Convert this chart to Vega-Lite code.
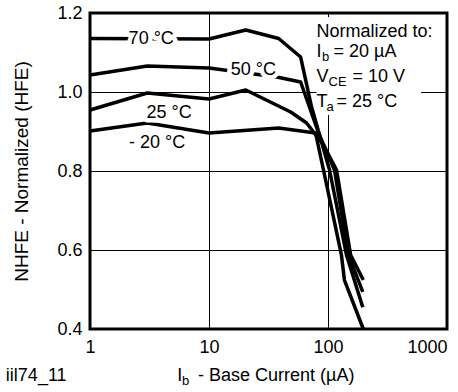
{
  "$schema": "https://vega.github.io/schema/vega-lite/v6.json",
  "width": 357,
  "height": 316,
  "autosize": {"type": "none"},
  "padding": {"left": 90, "top": 13, "right": 11, "bottom": 63},
  "background": "white",
  "config": {
    "font": "Liberation Sans",
    "view": {"stroke": "black", "strokeWidth": 3},
    "axis": {"domain": false, "ticks": true, "tickSize": 0, "labelColor": "black", "labelFont": "Liberation Sans", "labelFontSize": 18, "titleFont": "Liberation Sans", "titleFontWeight": "normal", "titleColor": "black", "gridColor": "black", "gridWidth": 1}
  },
  "datasets": {
    "curves": [
      {"series": "70 °C", "x": 1, "y": 1.1354},
      {"series": "70 °C", "x": 10, "y": 1.1342},
      {"series": "70 °C", "x": 20.4, "y": 1.157},
      {"series": "70 °C", "x": 38.5, "y": 1.1354},
      {"series": "70 °C", "x": 58.9, "y": 1.0886},
      {"series": "70 °C", "x": 72.8, "y": 0.962},
      {"series": "70 °C", "x": 103, "y": 0.8025},
      {"series": "70 °C", "x": 143, "y": 0.5873},
      {"series": "70 °C", "x": 196, "y": 0.455},
      {"series": "50 °C", "x": 1, "y": 1.043},
      {"series": "50 °C", "x": 3.03, "y": 1.0658},
      {"series": "50 °C", "x": 10, "y": 1.0608},
      {"series": "50 °C", "x": 37.1, "y": 1.038},
      {"series": "50 °C", "x": 58.9, "y": 1.0253},
      {"series": "50 °C", "x": 83.3, "y": 0.8962},
      {"series": "50 °C", "x": 113.4, "y": 0.8025},
      {"series": "50 °C", "x": 148.4, "y": 0.5873},
      {"series": "50 °C", "x": 196, "y": 0.4937},
      {"series": "25 °C", "x": 1, "y": 0.9544},
      {"series": "25 °C", "x": 3.03, "y": 0.9975},
      {"series": "25 °C", "x": 10, "y": 0.9823},
      {"series": "25 °C", "x": 20.4, "y": 1.005},
      {"series": "25 °C", "x": 48.6, "y": 0.9494},
      {"series": "25 °C", "x": 66.1, "y": 0.9215},
      {"series": "25 °C", "x": 91.7, "y": 0.8658},
      {"series": "25 °C", "x": 118, "y": 0.8025},
      {"series": "25 °C", "x": 155, "y": 0.5873},
      {"series": "25 °C", "x": 198, "y": 0.524},
      {"series": "-20 °C", "x": 1, "y": 0.9013},
      {"series": "-20 °C", "x": 3.03, "y": 0.9215},
      {"series": "-20 °C", "x": 10, "y": 0.8962},
      {"series": "-20 °C", "x": 38.5, "y": 0.9089},
      {"series": "-20 °C", "x": 78.6, "y": 0.8962},
      {"series": "-20 °C", "x": 91.7, "y": 0.8025},
      {"series": "-20 °C", "x": 129.7, "y": 0.5873},
      {"series": "-20 °C", "x": 137.4, "y": 0.524},
      {"series": "-20 °C", "x": 198, "y": 0.4}
    ],
    "box": [
      {"x": 80.1, "x2": 606, "y": 1.19, "y2": 0.942}
    ],
    "curveLabels": [
      {"x": 3.27, "y": 1.134, "text": "70 °C"},
      {"x": 23.6, "y": 1.0557, "text": "50 °C"},
      {"x": 4.63, "y": 0.9468, "text": "25 °C"},
      {"x": 3.67, "y": 0.8709, "text": "- 20 °C"}
    ],
    "notes": [
      {"x": 80.1, "y": 1.1392, "text": "Normalized to:"},
      {"x": 80.1, "y": 1.0886, "text": "I"},
      {"x": 111.2, "y": 1.0886, "text": "= 20 µA"},
      {"x": 80.1, "y": 1.0253, "text": "V"},
      {"x": 160.3, "y": 1.0253, "text": "= 10 V"},
      {"x": 80.1, "y": 0.9628, "text": "T"},
      {"x": 118.0, "y": 0.9628, "text": "= 25 °C"},
      {"x": 5.40, "y": 0.2684, "text": "I"},
      {"x": 8.09, "y": 0.2684, "text": "- Base Current (µA)"},
      {"x": 0.1963, "y": 0.2684, "text": "iil74_11"}
    ],
    "subs": [
      {"x": 89.1, "y": 1.0785, "text": "b"},
      {"x": 101.1, "y": 1.0152, "text": "CE"},
      {"x": 97.1, "y": 0.9527, "text": "a"},
      {"x": 5.94, "y": 0.2582, "text": "b"}
    ]
  },
  "encoding": {
    "x": {
      "field": "x", "type": "quantitative", "title": null,
      "scale": {"type": "log", "domain": [1, 1000], "nice": false},
      "axis": {
        "values": [1, 10, 100, 1000],
        "format": "d",
        "labelAlign": {"condition": {"test": "datum.value >= 1000", "value": "right"}, "value": "center"},
        "labelPadding": 9,
        "labelFlush": false,
        "labelOverlap": false,
        "grid": true,
        "gridOpacity": {"condition": {"test": "datum.value == 10 || datum.value == 100", "value": 1}, "value": 0}
      }
    },
    "y": {
      "field": "y", "type": "quantitative", "title": "NHFE - Normalized (HFE)",
      "scale": {"domain": [0.4, 1.2], "nice": false, "zero": false},
      "axis": {
        "values": [0.4, 0.6, 0.8, 1.0, 1.2],
        "format": ".1f",
        "labelPadding": 8,
        "labelOverlap": false,
        "grid": true,
        "gridOpacity": {"condition": {"test": "abs(datum.value - 0.6) < 0.01 || abs(datum.value - 0.8) < 0.01 || abs(datum.value - 1.0) < 0.01", "value": 1}, "value": 0},
        "titleFontSize": 19,
        "titlePadding": 25
      }
    }
  },
  "layer": [
    {
      "data": {"name": "box"},
      "mark": {"type": "rect", "fill": "white", "stroke": null},
      "encoding": {"x2": {"field": "x2"}, "y2": {"field": "y2"}}
    },
    {
      "data": {"name": "curves"},
      "mark": {"type": "line", "color": "black", "strokeWidth": 3.5, "strokeJoin": "round", "strokeCap": "butt"},
      "encoding": {"detail": {"field": "series", "type": "nominal"}}
    },
    {
      "data": {"name": "curveLabels"},
      "mark": {"type": "text", "fontSize": 18, "align": "center", "baseline": "middle", "fill": "white", "stroke": "white", "strokeWidth": 9, "strokeJoin": "round"},
      "encoding": {"text": {"field": "text"}}
    },
    {
      "data": {"name": "curveLabels"},
      "mark": {"type": "text", "fontSize": 18, "align": "center", "baseline": "middle", "color": "black"},
      "encoding": {"text": {"field": "text"}}
    },
    {
      "data": {"name": "notes"},
      "mark": {"type": "text", "fontSize": 18, "align": "left", "baseline": "alphabetic", "color": "black"},
      "encoding": {"text": {"field": "text"}}
    },
    {
      "data": {"name": "subs"},
      "mark": {"type": "text", "fontSize": 13, "align": "left", "baseline": "alphabetic", "color": "black"},
      "encoding": {"text": {"field": "text"}}
    },
    {
      "data": {"values": [
        {"x": 2}, {"x": 3}, {"x": 4}, {"x": 5}, {"x": 6}, {"x": 7}, {"x": 8}, {"x": 9},
        {"x": 20}, {"x": 30}, {"x": 40}, {"x": 50}, {"x": 60}, {"x": 70}, {"x": 80}, {"x": 90},
        {"x": 200}, {"x": 300}, {"x": 400}, {"x": 500}, {"x": 600}, {"x": 700}, {"x": 800}, {"x": 900}
      ]},
      "mark": {"type": "rule", "color": "black", "strokeWidth": 1.3},
      "encoding": {
        "y": {"datum": 0.4, "type": "quantitative"},
        "y2": {"datum": 0.42}
      }
    },
    {
      "data": {"values": [{"y": 0.5}, {"y": 0.7}, {"y": 0.9}, {"y": 1.1}]},
      "mark": {"type": "rule", "color": "black", "strokeWidth": 1.3},
      "encoding": {
        "x": {"datum": 1, "type": "quantitative"},
        "x2": {"datum": 1.15}
      }
    }
  ]
}
